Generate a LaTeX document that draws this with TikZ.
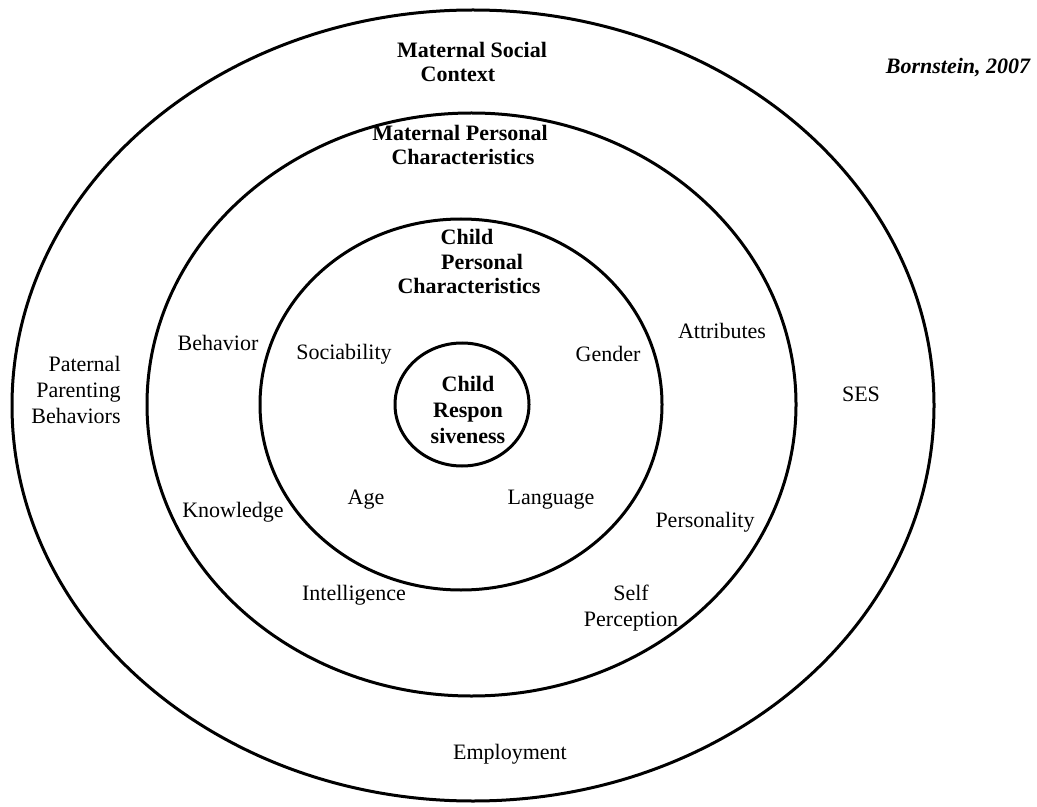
\documentclass[tikz,border=0pt]{standalone}
\usepackage{fontspec}
\setmainfont{Liberation Serif}
\usetikzlibrary{shapes.geometric}
\begin{document}
\begin{tikzpicture}[x=0.5pt,y=-0.5pt,
  ring/.style={draw=black,line width=1.5pt,ellipse,inner sep=0pt},
  lbl/.style={font=\fontsize{11}{13}\selectfont,inner sep=0pt},
  blbl/.style={font=\fontsize{11}{13}\selectfont\bfseries,inner sep=0pt}]
\useasboundingbox (0,0) rectangle (1037,807);
\fill[white] (0,0) rectangle (1037,807);
% rings
\node[ring,minimum width=461pt,minimum height=395.5pt] (outer) at (473,405.5) {};
\node[ring,minimum width=324.5pt,minimum height=291.5pt] (mpc) at (471.5,404.5) {};
\node[ring,minimum width=201pt,minimum height=185.5pt] (cpc) at (461,404.5) {};
\node[ring,minimum width=67pt,minimum height=61.5pt] (cr) at (462,404.5) {};
% ring titles
\node[blbl] (msc1) at (472,50) {Maternal Social};
\node[blbl] (msc2) at (458,74) {Context};
\node[blbl] (mpc1) at (460,133) {Maternal Personal};
\node[blbl] (mpc2) at (463,157) {Characteristics};
\node[blbl] (cpc1) at (467,237) {Child};
\node[blbl] (cpc2) at (482,262) {Personal};
\node[blbl] (cpc3) at (469,286) {Characteristics};
\node[blbl,align=center] (crt) at (468,410) {Child\\Respon\\siveness};
\node[font=\fontsize{11}{13}\selectfont\bfseries\itshape,inner sep=0pt] (cite) at (958,68) {Bornstein, 2007};
% outer ring labels
\node[lbl,align=right] (ppb) at (76,390) {Paternal\\Parenting\\Behaviors};
\node[lbl] (ses) at (861,394) {SES};
\node[lbl] (emp) at (510,754) {Employment};
% maternal personal ring labels
\node[lbl] (beh) at (218,343) {Behavior};
\node[lbl] (att) at (722,331) {Attributes};
\node[lbl] (kno) at (233,512) {Knowledge};
\node[lbl] (per) at (705,522) {Personality};
\node[lbl,align=center] (self) at (631,608) {Self\\Perception};
% child personal ring labels
\node[lbl] (soc) at (344,354) {Sociability};
\node[lbl] (gen) at (608,354) {Gender};
\node[lbl] (age) at (366,500) {Age};
\node[lbl] (lan) at (551,500) {Language};
\node[lbl] (int) at (354,595) {Intelligence};
\end{tikzpicture}
\end{document}
